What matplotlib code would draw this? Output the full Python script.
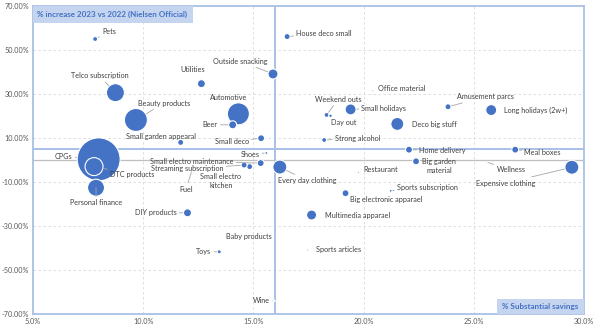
import numpy as np
import matplotlib.pyplot as plt
from matplotlib.patches import Rectangle
from matplotlib.ticker import FuncFormatter

plt.rcParams['font.family'] = ['Lato', 'DejaVu Sans']

# data: x = % substantial savings, y = % increase 2023 vs 2022
names = ['Pets', 'House deco small', 'Outside snacking', 'Utilities', 'Telco subscription',
         'Beauty products', 'Automotive', 'Beer', 'Small garden appearal', 'Small deco',
         'Shoes', 'CPGs', 'DTC products', 'Personal finance', 'Small electro maintenance',
         'Streaming subscription', 'Small electro\nkitchen', 'Every day clothing', 'Fuel',
         'DIY products', 'Toys', 'Baby products', 'Wine', 'Office material', 'Weekend outs',
         'Day out', 'Small holidays', 'Deco big stuff', 'Amusement parcs', 'Long holidays (2w+)',
         'Strong alcohol', 'Home delivery', 'Meal boxes', 'Big garden\nmaterial',
         'Expensive clothing', 'Wellness', 'Restaurant', 'Sports subscription',
         'Big electronic apparael', 'Multimedia apparael', 'Sports articles']
savings = [7.82, 16.53, 15.89, 12.64, 8.74, 9.67, 14.32, 14.06, 11.70, 15.35,
           15.59, 7.98, 7.77, 7.86, 15.33, 14.58, 14.83, 16.2, 12.2,
           12.01, 13.45, 16.06, 15.95, 20.42, 18.32, 18.5, 19.41, 21.53, 23.83, 25.79,
           18.21, 22.06, 26.88, 22.38, 29.45, 25.6, 19.76, 21.23, 19.18, 17.64, 17.47]
increase = [55.0, 56.1, 39.1, 34.7, 30.6, 18.2, 21.0, 16.0, 8.0, 9.9,
            3.2, 0.3, -3.0, -12.6, -1.4, -2.3, -3.0, -3.2, -5.0,
            -24.0, -41.7, -34.9, -64.0, 31.4, 20.5, 20.1, 23.0, 16.4, 24.2, 22.7,
            9.1, 4.7, 4.7, -0.6, -3.3, -1.0, -5.8, -14.0, -15.1, -25.0, -40.9]
bubble_size = [6, 9, 25, 16, 81, 132, 121, 16, 9, 12,
               2, 462, 81, 72, 12, 9, 9, 49, 0.1,
               16, 4, 0.5, 0.5, 1, 6, 3, 30, 42, 9, 30,
               6, 12, 12, 12, 49, 0.1, 1, 2, 12, 25, 1]

# label layout: (x, y, ha, leader line)
label_pos = {
    'Pets': (8.14, 58.2, 'left', True),
    'House deco small': (16.95, 57.4, 'left', True),
    'Outside snacking': (15.64, 45.0, 'right', True),
    'Utilities': (12.26, 41.2, 'center', False),
    'Telco subscription': (8.01, 38.3, 'center', True),
    'Beauty products': (10.94, 25.8, 'center', True),
    'Automotive': (13.86, 28.3, 'center', False),
    'Beer': (13.38, 16.0, 'right', True),
    'Small garden appearal': (10.82, 10.9, 'center', False),
    'Small deco': (14.79, 8.3, 'right', True),
    'Shoes': (15.27, 2.7, 'right', True),
    'CPGs': (6.79, 1.8, 'right', True),
    'DTC products': (8.5, -6.4, 'left', True),
    'Personal finance': (7.86, -19.4, 'center', True),
    'Small electro maintenance': (14.1, -0.7, 'right', True),
    'Streaming subscription': (13.65, -4.0, 'right', True),
    'Small electro\nkitchen': (13.53, -9.5, 'center', False),
    'Every day clothing': (17.44, -9.4, 'center', True),
    'Fuel': (11.95, -13.2, 'center', True),
    'DIY products': (11.5, -24.0, 'right', True),
    'Toys': (13.09, -41.8, 'right', True),
    'Baby products': (15.85, -34.9, 'right', True),
    'Wine': (15.76, -64.0, 'right', True),
    'Office material': (20.64, 32.4, 'left', False),
    'Weekend outs': (18.85, 27.6, 'center', True),
    'Day out': (19.08, 17.1, 'center', False),
    'Small holidays': (19.9, 23.6, 'left', True),
    'Deco big stuff': (22.18, 16.2, 'left', False),
    'Amusement parcs': (24.26, 28.8, 'left', True),
    'Long holidays (2w+)': (26.38, 22.6, 'left', False),
    'Strong alcohol': (18.7, 10.0, 'left', True),
    'Home delivery': (22.51, 4.1, 'left', True),
    'Meal boxes': (27.3, 3.6, 'left', True),
    'Big garden\nmaterial': (23.42, -2.7, 'center', False),
    'Expensive clothing': (27.79, -10.5, 'right', True),
    'Wellness': (26.03, -4.5, 'left', True),
    'Restaurant': (20.01, -4.4, 'left', False),
    'Sports subscription': (21.51, -12.4, 'left', True),
    'Big electronic apparael': (19.38, -17.9, 'left', False),
    'Multimedia apparael': (18.23, -25.1, 'left', False),
    'Sports articles': (17.85, -40.9, 'left', False),
}

blue = '#4472C4'
frame = '#a9c1e8'
size_scale = 2.07  # px^2 -> pt^2 at 100 dpi

fig = plt.figure(figsize=(6.02, 3.32), dpi=100)
ax = fig.add_axes([0.0548, 0.0542, 0.9153, 0.9277])

x = np.array(savings)
y = np.array(increase)
s = np.array(bubble_size) * size_scale
order = np.argsort(-s)
ax.scatter(x[order], y[order], s=s[order], color=blue, edgecolors='white',
           linewidths=0.8, zorder=3)

# reference lines
ax.axhline(0, color='#bfbfbf', lw=0.9, zorder=1)
ax.axhline(5, color=frame, lw=1.4, zorder=2)
ax.axvline(16, color=frame, lw=1.4, zorder=2)

for i, name in enumerate(names):
    lx, ly, ha, leader = label_pos[name]
    r = np.sqrt(s[i]) / 2
    arrow = dict(arrowstyle='-', color='#a6a6a6', lw=0.6, shrinkA=0, shrinkB=r + 0.5) if leader else None
    ax.annotate(name, xy=(x[i], y[i]), xytext=(lx, ly), ha=ha, va='center',
                fontsize=5.2, color='#404040', linespacing=1.3,
                arrowprops=arrow, zorder=4)

ax.set_xlim(5, 30)
ax.set_ylim(-70, 70)
ax.set_xticks(np.arange(5, 31, 5))
ax.set_yticks(np.arange(-70, 71, 20))
ax.xaxis.set_major_formatter(FuncFormatter(lambda v, p: f'{v:.1f}%'))
ax.yaxis.set_major_formatter(FuncFormatter(lambda v, p: f'{v:.2f}%'))
ax.tick_params(length=0, labelsize=5.2, labelcolor='#595959', pad=3)
ax.grid(True, ls=(0, (3, 3)), color='#d9d9d9', lw=0.6, zorder=0)
ax.set_axisbelow(True)
for sp in ax.spines.values():
    sp.set_color(frame)
    sp.set_linewidth(1.3)

# corner captions
ax.add_patch(Rectangle((0, 0.945), 0.29, 0.055, transform=ax.transAxes,
                       facecolor='#c5d4ef', edgecolor='none', zorder=5))
ax.text(0.008, 0.972, '% increase 2023 vs 2022 (Nielsen Official)', transform=ax.transAxes,
        ha='left', va='center', fontsize=5.8, fontweight='bold', color=blue, zorder=6)
ax.add_patch(Rectangle((0.843, 0), 0.157, 0.048, transform=ax.transAxes,
                       facecolor='#c5d4ef', edgecolor='none', zorder=5))
ax.text(0.921, 0.024, '% Substantial savings', transform=ax.transAxes,
        ha='center', va='center', fontsize=5.8, fontweight='bold', color=blue, zorder=6)

fig.savefig('out.png', dpi=100)
